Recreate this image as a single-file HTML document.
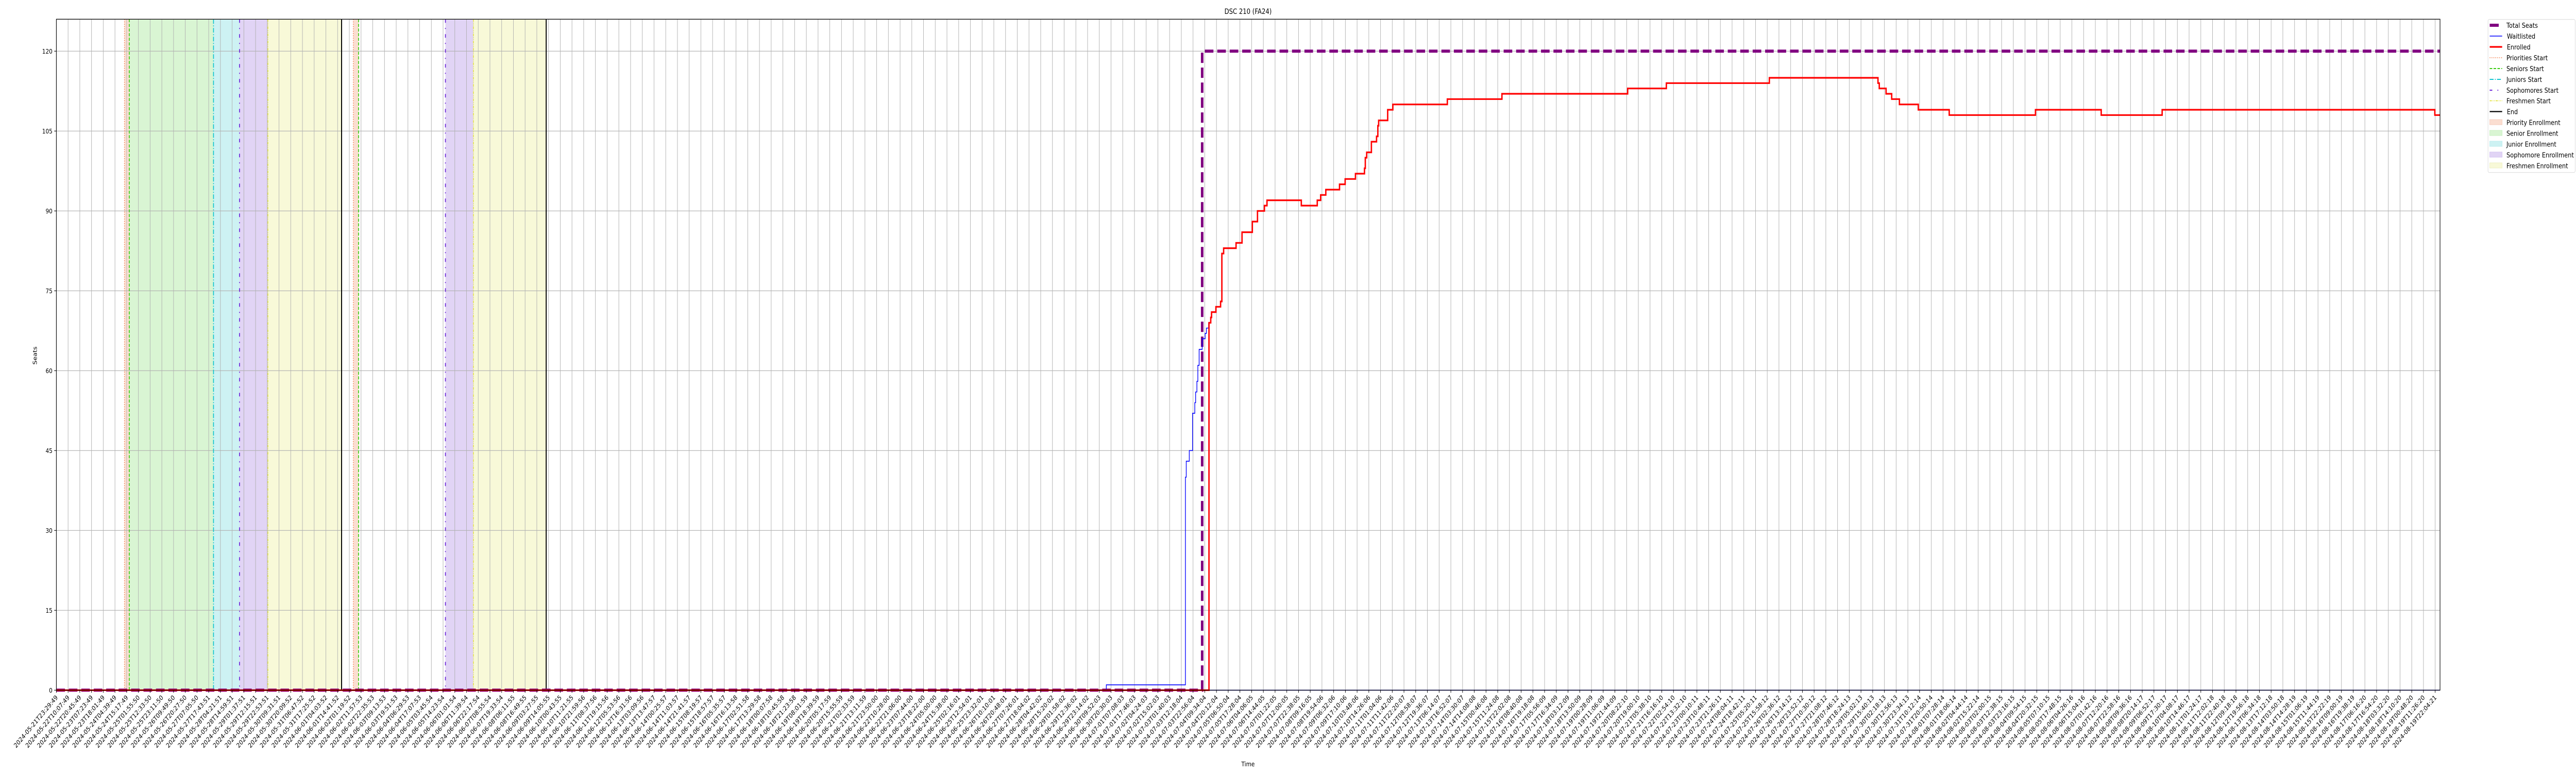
<!DOCTYPE html>
<html><head><meta charset="utf-8"><style>
html,body{margin:0;padding:0;background:#fff;width:100%;height:100%;overflow:hidden;}
#wrap{position:relative;width:100vw;height:100vh;overflow:hidden;}
svg{display:block;position:absolute;left:0;top:0;width:100vw;height:100vh;overflow:hidden;font-family:"DejaVu Sans","Liberation Sans",sans-serif;}
</style></head><body>
<div id="wrap">
<svg id="chart" viewBox="0 0 6000 1500" preserveAspectRatio="none" xmlns="http://www.w3.org/2000/svg"></svg>
<svg viewBox="0 0 6000 1500" preserveAspectRatio="none" xmlns="http://www.w3.org/2000/svg" font-family="DejaVu Sans, Liberation Sans, sans-serif">
  <text x="2907" y="27" font-size="14" text-anchor="middle">DSC 210 (FA24)</text>
  <text x="0" y="0" font-size="12.7" text-anchor="middle" transform="translate(86,690) rotate(-90)">Seats</text>
  <text x="2907" y="1487" font-size="12.7" text-anchor="middle">Time</text>
  <g font-size="13.5">
    <rect x="5795" y="37.7" width="203" height="297" rx="3" fill="#fff" stroke="#d8d8d8" stroke-width="1"/>
    <g><line x1="5799" x2="5820" y1="49" y2="49" stroke="#800080" stroke-width="6"/><text x="5838" y="54">Total Seats</text></g>
    <g><line x1="5799" x2="5828" y1="70" y2="70" stroke="#0000ff" stroke-width="1.6"/><text x="5839" y="75">Waitlisted</text></g>
    <g><line x1="5799" x2="5828" y1="91" y2="91" stroke="#ff0000" stroke-width="3.2"/><text x="5839" y="96">Enrolled</text></g>
    <g><line x1="5799" x2="5828" y1="112" y2="112" stroke="#f2703a" stroke-width="1.7" stroke-dasharray="1.5,3"/><text x="5838" y="117">Priorities Start</text></g>
    <g><line x1="5799" x2="5828" y1="133" y2="133" stroke="#3ccc14" stroke-width="2" stroke-dasharray="6,3"/><text x="5838" y="138">Seniors Start</text></g>
    <g><line x1="5799" x2="5828" y1="154" y2="154" stroke="#10c4cf" stroke-width="2" stroke-dasharray="9,3,2,3"/><text x="5838" y="159">Juniors Start</text></g>
    <g><line x1="5799" x2="5828" y1="175" y2="175" stroke="#6a24d8" stroke-width="2" stroke-dasharray="6,12,2,12"/><text x="5838" y="180">Sophomores Start</text></g>
    <g><line x1="5799" x2="5828" y1="195.5" y2="195.5" stroke="#e2e23a" stroke-width="1.7" stroke-dasharray="5,2,1.5,2,1.5,2"/><text x="5838" y="200.5">Freshmen Start</text></g>
    <g><line x1="5799" x2="5828" y1="216.5" y2="216.5" stroke="#000" stroke-width="2.3"/><text x="5839" y="221.5">End</text></g>
    <g><rect x="5799" y="232" width="29" height="10" fill="#fbded1" stroke="#f6cdbd"/><text x="5838" y="242.5">Priority Enrollment</text></g>
    <g><rect x="5799" y="253" width="29" height="10" fill="#d9f5d3" stroke="#c8efc0"/><text x="5838" y="263.5">Senior Enrollment</text></g>
    <g><rect x="5799" y="274" width="29" height="10" fill="#cdf2f3" stroke="#bdeced"/><text x="5838" y="284.5">Junior Enrollment</text></g>
    <g><rect x="5799" y="295" width="29" height="10" fill="#e1d4f5" stroke="#d4c4f0"/><text x="5838" y="305.5" textLength="157" lengthAdjust="spacingAndGlyphs">Sophomore Enrollment</text></g>
    <g><rect x="5799" y="316" width="29" height="10" fill="#f8f9d8" stroke="#eef0c4"/><text x="5838" y="326.5">Freshmen Enrollment</text></g>
  </g>
</svg>
</div>
<script>
// ---- data (x in tick-index units, y in seats) ----
const startTime = "2024-05-21T23:29:49";
const endTime = "2024-08-19T22:04:21";
const tickCount = 204;
const yTicks = [0, 15, 30, 45, 60, 75, 90, 105, 120];
const enrolledX = [0, 98.36, 98.51, 98.58, 98.95, 99.35, 99.46, 99.61, 100.67, 101.18, 102.06, 102.5, 103.09, 103.31, 106.24, 107.6, 107.89, 108.33, 109.5, 109.98, 110.86, 111.63, 111.7, 111.82, 112.22, 112.66, 112.77, 112.84, 113.61, 114.05, 118.7, 123.36, 134.09, 137.39, 146.18, 155.45, 155.56, 156.14, 156.62, 157.28, 158.89, 161.53, 168.89, 174.5, 179.7, 202.97, 203.4];
const enrolledY = [0, 69, 70, 71, 72, 73, 82, 83, 84, 86, 88, 90, 91, 92, 91, 92, 93, 94, 95, 96, 97, 98, 100, 101, 103, 104, 106, 107, 109, 110, 111, 112, 113, 114, 115, 114, 113, 112, 111, 110, 109, 108, 109, 108, 109, 108, 108];
const waitX = [0, 89.6, 96.24, 96.35, 96.42, 96.68, 96.96, 97.15, 97.22, 97.33, 97.41, 97.52, 97.78, 98.03, 98.14, 98.33, 98.36, 203.4];
const waitY = [0, 1, 1, 40, 43, 45, 52, 54, 56, 58, 61, 64, 66, 67, 68, 69, 0, 0];
const seatsX = [0, 97.78, 203.4];
const seatsY = [0, 120, 120];
const prioritiesStart = [5.81, 25.34];
const seniorsStart = [6.22, 25.79];
const juniorsStart = [13.41];
const sophomoresStart = [15.63, 33.2];
const freshmenStart = [18.05, 35.59];
const endMarks = [24.34, 41.8];
const prioritySpans = [[5.81, 6.22], [25.34, 25.79]];
const seniorSpans = [[6.22, 13.41]];
const juniorSpans = [[13.41, 15.63]];
const sophomoreSpans = [[15.63, 18.05], [33.2, 35.59]];
const freshmenSpans = [[18.05, 24.34], [35.59, 41.8]];
const tickLabels = [];
(function(){
  const t0 = Date.parse(startTime + "Z"), t1 = Date.parse(endTime + "Z");
  for (let i = 0; i < tickCount; i++) {
    const t = new Date(t0 + (t1 - t0) * i / (tickCount - 1));
    tickLabels.push(t.toISOString().slice(0, 19));
  }
})();

// ---- layout ----
const L = 131.3, R = 5683.3, T = 37.3, B = 1339.3;
const tickStep = (5672 - 131.3) / (tickCount - 1);
const yMax = 126;
const xs = u => L + u * tickStep;
const ys = v => B - v * (B - T) / yMax;
const NS = "http://www.w3.org/2000/svg";
const svg = document.getElementById('chart');
function mk(tag, attrs, parent) {
  const e = document.createElementNS(NS, tag);
  for (const k in attrs) e.setAttribute(k, attrs[k]);
  (parent || svg).appendChild(e);
  return e;
}
const spanGroup = mk('g', {});


function spans(arr, fill, name) {
  arr.forEach(s => {
    const r = mk('rect', {x: xs(s[0]), y: T, width: xs(s[1]) - xs(s[0]), height: B - T, fill: fill}, spanGroup);
    
    
  });
}
spans(prioritySpans, '#fbded1', 'priority-enrollment-span');
spans(seniorSpans, '#d9f5d3', 'senior-enrollment-span');
spans(juniorSpans, '#cdf2f3', 'junior-enrollment-span');
spans(sophomoreSpans, '#e1d4f5', 'sophomore-enrollment-span');
spans(freshmenSpans, '#f8f9d8', 'freshmen-enrollment-span');

const grid = mk('g', {stroke: '#b0b0b0', 'stroke-width': 1.1});


for (let i = 0; i < tickCount; i++) mk('line', {x1: xs(i), x2: xs(i), y1: T, y2: B}, grid);
yTicks.forEach(v => mk('line', {x1: L, x2: R, y1: ys(v), y2: ys(v)}, grid));

function vlines(arr, color, dash, w, name) {
  arr.forEach(u => {
    const l = mk('line', {x1: xs(u), x2: xs(u), y1: T, y2: B, stroke: color, 'stroke-width': w, 'stroke-dasharray': dash});
    
    
  });
}
vlines(prioritiesStart, '#f2703a', '1.5,3', 1.7, 'priorities-start-line');
vlines(seniorsStart, '#3ccc14', '6,3', 2, 'seniors-start-line');
vlines(juniorsStart, '#10c4cf', '9,3,2,3', 2, 'juniors-start-line');
vlines(sophomoresStart, '#6a24d8', '7,10,2,10', 2, 'sophomores-start-line');
vlines(freshmenStart, '#e2e23a', '5,2,1.5,2,1.5,2', 1.7, 'freshmen-start-line');
vlines(endMarks, '#000', 'none', 2.3, 'end-line');

function stepPath(X, Y) {
  let d = 'M' + xs(X[0]) + ',' + ys(Y[0]);
  for (let i = 1; i < X.length; i++) {
    d += 'L' + xs(X[i]) + ',' + ys(Y[i - 1]) + 'L' + xs(X[i]) + ',' + ys(Y[i]);
  }
  return d;
}
const seats = mk('path', {d: stepPath(seatsX, seatsY), fill: 'none', stroke: '#800080', 'stroke-width': 6, 'stroke-dasharray': '20,9'});


const wait = mk('path', {d: stepPath(waitX, waitY), fill: 'none', stroke: '#0000ff', 'stroke-width': 1.6});


const enr = mk('path', {d: stepPath(enrolledX, enrolledY), fill: 'none', stroke: '#ff0000', 'stroke-width': 3.2});



const frame = mk('rect', {x: L, y: T, width: R - L, height: B - T, fill: 'none', stroke: '#000', 'stroke-width': 1.3});



const xAxis = mk('g', {});


for (let i = 0; i < tickCount; i++) {
  const x = xs(i);
  mk('line', {x1: x, x2: x, y1: B, y2: B + 5, stroke: '#000', 'stroke-width': 1.1}, xAxis);
  const t = mk('text', {x: 0, y: 0, 'font-size': 12.7, 'text-anchor': 'end', fill: '#000',
    transform: 'translate(' + (x + 4) + ',' + (B + 15) + ') rotate(-45)'}, xAxis);
  t.textContent = tickLabels[i];
  
  
}
const yAxis = mk('g', {});


yTicks.forEach(v => {
  mk('line', {x1: L - 5, x2: L, y1: ys(v), y2: ys(v), stroke: '#000', 'stroke-width': 1.1}, yAxis);
  const t = mk('text', {x: L - 9, y: ys(v) + 4.5, 'font-size': 12.7, 'text-anchor': 'end', fill: '#000'}, yAxis);
  t.textContent = v;
  
  
});
</script>
</body></html>
